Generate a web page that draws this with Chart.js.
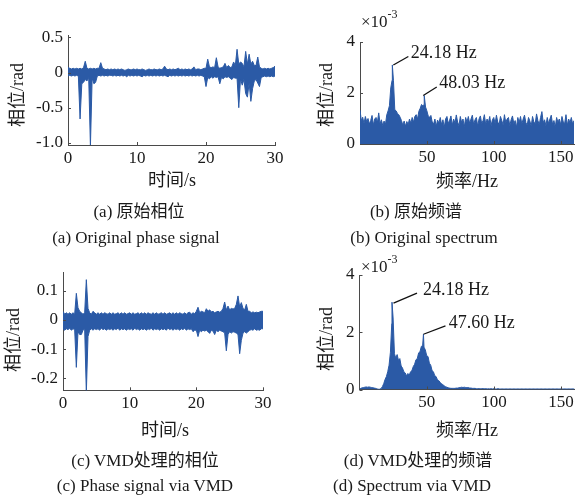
<!DOCTYPE html>
<html>
<head>
<meta charset="utf-8">
<script src="https://cdn.jsdelivr.net/npm/chart.js@4/dist/chart.umd.min.js"></script>
<style>
  html, body { margin: 0; padding: 0; background: #fff; }
  body { width: 576px; height: 495px; position: relative; overflow: hidden; }
  canvas { position: absolute; left: 0; top: 0; }
  .t { position: absolute; white-space: nowrap; color: #1a1a1a;
       font-family: "Liberation Serif", "Noto Sans CJK SC", serif; line-height: 1; }
  .c { transform: translate(-50%, -50%); }
  .ylab { transform: translate(-50%, -50%) rotate(-90deg); font-size: 18px; }
  .xlab { font-size: 18px; }
  .cap { font-size: 17px; }
  .mult { font-size: 17px; transform: translateY(-50%); }
  .mult sup { font-size: 12px; position: relative; top: -2px; }
</style>
</head>
<body>
<canvas id="chartA" width="600" height="495"></canvas>
<canvas id="chartB" width="600" height="495"></canvas>
<canvas id="chartC" width="600" height="495"></canvas>
<canvas id="chartD" width="600" height="495"></canvas>

<div class="t ylab" style="left:17px;top:95px">相位/rad</div>
<div class="t xlab c" style="left:172px;top:180px">时间/s</div>
<div class="t ylab" style="left:326px;top:95px">相位/rad</div>
<div class="t xlab c" style="left:467px;top:181px">频率/Hz</div>
<div class="t mult" style="left:361px;top:20px">×10<sup>-3</sup></div>

<div class="t ylab" style="left:13px;top:340px">相位/rad</div>
<div class="t xlab c" style="left:165px;top:430px">时间/s</div>
<div class="t ylab" style="left:326px;top:339px">相位/rad</div>
<div class="t xlab c" style="left:467px;top:430px">频率/Hz</div>
<div class="t mult" style="left:361px;top:265px">×10<sup>-3</sup></div>

<div class="t cap c" style="left:139px;top:211px">(a) 原始相位</div>
<div class="t cap c" style="left:136px;top:237px">(a) Original phase signal</div>
<div class="t cap c" style="left:416px;top:211px">(b) 原始频谱</div>
<div class="t cap c" style="left:424px;top:237px">(b) Original spectrum</div>
<div class="t cap c" style="left:145px;top:460px">(c) VMD处理的相位</div>
<div class="t cap c" style="left:145px;top:485px">(c) Phase signal via VMD</div>
<div class="t cap c" style="left:418px;top:460px">(d) VMD处理的频谱</div>
<div class="t cap c" style="left:412px;top:485px">(d) Spectrum via VMD</div>

<script>
// ---- sampling grids ----
const timeStep = 0.25;   // s between envelope samples
const freqStep = 1;      // Hz between spectrum samples

// ---- (a) original phase: upper / lower envelope, rad ----
const rawPhaseUpper = [
  0.07, 0.06, 0.05, 0.06, 0.05, 0.06, 0.05, 0.06, 0.05, 0.07,
  0.16, 0.06, 0.05, 0.06, 0.05, 0.06, 0.05, 0.06, 0.06, 0.14,
  0.06, 0.05, 0.04, 0.05, 0.04, 0.05, 0.04, 0.05, 0.04, 0.05,
  0.04, 0.05, 0.04, 0.03, 0.04, 0.05, 0.04, 0.04, 0.05, 0.04,
  0.05, 0.04, 0.04, 0.05, 0.04, 0.03, 0.04, 0.05, 0.04, 0.04,
  0.05, 0.04, 0.04, 0.05, 0.04, 0.05, 0.09, 0.05, 0.04, 0.05,
  0.04, 0.05, 0.04, 0.05, 0.06, 0.04, 0.05, 0.04, 0.05, 0.04,
  0.05, 0.04, 0.05, 0.08, 0.04, 0.05, 0.05, 0.04, 0.05, 0.06,
  0.06, 0.19, 0.08, 0.07, 0.08, 0.07, 0.21, 0.08, 0.06, 0.07,
  0.08, 0.13, 0.07, 0.10, 0.07, 0.08, 0.15, 0.10, 0.33, 0.12,
  0.15, 0.13, 0.08, 0.30, 0.12, 0.26, 0.12, 0.16, 0.10, 0.10,
  0.22, 0.08, 0.06, 0.05, 0.06, 0.05, 0.06, 0.05, 0.06, 0.07,
  0.09
];
const rawPhaseLower = [
  -0.05, -0.04, -0.05, -0.04, -0.05, -0.04, -0.05, -0.66, -0.16, -0.14,
  -0.10, -0.12, -0.07, -1.05, -0.08, -0.16, -0.14, -0.05, -0.04, -0.05,
  -0.04, -0.05, -0.04, -0.05, -0.04, -0.04, -0.05, -0.04, -0.05, -0.04,
  -0.05, -0.04, -0.05, -0.04, -0.06, -0.04, -0.05, -0.04, -0.05, -0.04,
  -0.05, -0.04, -0.05, -0.06, -0.04, -0.05, -0.04, -0.05, -0.04, -0.05,
  -0.04, -0.05, -0.04, -0.05, -0.04, -0.05, -0.04, -0.05, -0.06, -0.04,
  -0.05, -0.04, -0.05, -0.04, -0.05, -0.04, -0.05, -0.04, -0.05, -0.04,
  -0.05, -0.04, -0.05, -0.04, -0.05, -0.04, -0.05, -0.04, -0.05, -0.06,
  -0.20, -0.07, -0.09, -0.06, -0.08, -0.06, -0.07, -0.06, -0.16, -0.07,
  -0.09, -0.06, -0.07, -0.06, -0.08, -0.10, -0.07, -0.08, -0.08, -0.50,
  -0.09, -0.18, -0.10, -0.30, -0.35, -0.15, -0.41, -0.23, -0.12, -0.10,
  -0.15, -0.20, -0.07, -0.06, -0.05, -0.06, -0.05, -0.06, -0.05, -0.06,
  -0.05
];

// ---- (c) VMD phase: upper / lower envelope, rad ----
const vmdPhaseUpper = [
  0.030, 0.020, 0.025, 0.020, 0.025, 0.020, 0.025, 0.020, 0.092, 0.042,
  0.030, 0.025, 0.020, 0.025, 0.139, 0.040, 0.025, 0.020, 0.030, 0.025,
  0.020, 0.025, 0.020, 0.025, 0.020, 0.025, 0.022, 0.020, 0.025, 0.020,
  0.025, 0.020, 0.022, 0.025, 0.020, 0.025, 0.020, 0.025, 0.020, 0.022,
  0.025, 0.020, 0.025, 0.020, 0.022, 0.025, 0.020, 0.025, 0.020, 0.025,
  0.020, 0.025, 0.022, 0.020, 0.025, 0.020, 0.025, 0.020, 0.022, 0.025,
  0.020, 0.025, 0.020, 0.022, 0.025, 0.020, 0.025, 0.020, 0.025, 0.020,
  0.025, 0.022, 0.020, 0.025, 0.020, 0.025, 0.027, 0.020, 0.025, 0.022,
  0.030, 0.044, 0.025, 0.030, 0.028, 0.025, 0.039, 0.030, 0.035, 0.028,
  0.030, 0.025, 0.028, 0.030, 0.027, 0.030, 0.040, 0.062, 0.035, 0.048,
  0.035, 0.040, 0.038, 0.040, 0.054, 0.083, 0.045, 0.060, 0.040, 0.035,
  0.054, 0.030, 0.030, 0.025, 0.028, 0.025, 0.027, 0.025, 0.028, 0.030,
  0.030
];
const vmdPhaseLower = [
  -0.030, -0.035, -0.030, -0.033, -0.028, -0.035, -0.030, -0.033, -0.163, -0.040,
  -0.050, -0.050, -0.035, -0.030, -0.250, -0.057, -0.035, -0.030, -0.035, -0.030,
  -0.033, -0.030, -0.035, -0.028, -0.033, -0.030, -0.035, -0.030, -0.033, -0.030,
  -0.035, -0.030, -0.033, -0.028, -0.035, -0.030, -0.033, -0.030, -0.035, -0.030,
  -0.033, -0.030, -0.035, -0.028, -0.033, -0.030, -0.035, -0.030, -0.033, -0.030,
  -0.035, -0.030, -0.033, -0.028, -0.035, -0.030, -0.033, -0.030, -0.035, -0.030,
  -0.033, -0.030, -0.035, -0.028, -0.033, -0.030, -0.035, -0.030, -0.033, -0.030,
  -0.035, -0.030, -0.033, -0.028, -0.035, -0.030, -0.033, -0.030, -0.040, -0.035,
  -0.035, -0.057, -0.035, -0.040, -0.035, -0.038, -0.035, -0.040, -0.046, -0.035,
  -0.038, -0.050, -0.035, -0.040, -0.035, -0.038, -0.040, -0.045, -0.106, -0.050,
  -0.040, -0.045, -0.040, -0.042, -0.045, -0.050, -0.116, -0.070, -0.045, -0.040,
  -0.045, -0.040, -0.035, -0.033, -0.035, -0.030, -0.035, -0.033, -0.035, -0.030,
  -0.030
];

// ---- (b) original spectrum, x10^-3 rad, 0..160 Hz ----
const rawSpectrum = [
  1.33, 0.92, 1.05, 0.80, 1.08, 0.88, 1.00, 0.78, 0.92, 1.12,
  0.75, 0.98, 1.04, 0.85, 1.22, 0.80, 0.95, 0.72, 0.90, 0.76,
  1.14, 1.30, 1.50, 2.20, 2.50, 2.50, 1.35, 1.30, 1.20, 1.15,
  1.05, 0.92, 0.74, 0.90, 0.70, 0.88, 0.76, 0.98, 0.82, 1.04,
  0.86, 1.08, 1.15, 0.98, 1.28, 1.40, 1.55, 1.50, 1.55, 1.45,
  1.30, 1.10, 1.05, 1.12, 0.86, 0.78, 0.98, 0.70, 0.94, 0.82,
  1.04, 0.76, 0.95, 0.66, 0.98, 1.08, 0.80, 0.93, 1.10, 0.74,
  0.98, 0.82, 1.14, 0.86, 0.72, 1.08, 0.84, 0.98, 0.68, 1.04,
  0.86, 1.08, 0.80, 0.98, 1.13, 0.76, 0.95, 1.04, 0.70, 0.98,
  1.10, 0.80, 0.92, 1.15, 0.76, 0.98, 0.84, 1.08, 0.72, 0.95,
  1.04, 0.80, 1.13, 0.86, 0.76, 1.08, 0.92, 0.75, 1.15, 0.84,
  0.98, 1.04, 0.72, 0.95, 1.10, 0.80, 0.92, 0.66, 1.04, 0.84,
  1.08, 0.78, 0.98, 1.13, 0.84, 0.74, 1.04, 0.90, 0.70, 1.08,
  0.86, 0.80, 1.18, 0.92, 0.76, 1.04, 1.27, 0.84, 0.95, 0.72,
  1.04, 0.80, 0.98, 1.13, 0.76, 0.92, 0.66, 1.04, 0.84, 0.98,
  0.76, 1.08, 0.86, 0.80, 1.15, 0.74, 0.98, 0.84, 1.04, 0.78,
  0.92
];
const rawPeakFreqs = [24.18, 48.03];
const rawPeakAmps  = [3.10, 1.90];

// ---- (d) VMD spectrum, x10^-3 rad, 0..160 Hz ----
const vmdSpectrum = [
  0.02, 0.04, 0.06, 0.07, 0.08, 0.09, 0.08, 0.09, 0.08, 0.07,
  0.06, 0.05, 0.04, 0.02, 0.01, 0.01, 0.03, 0.10, 0.20, 0.35,
  0.45, 0.62, 0.85, 1.30, 2.30, 2.50, 1.25, 1.10, 1.22, 1.02,
  1.08, 0.82, 0.75, 0.62, 0.58, 0.48, 0.56, 0.50, 0.62, 0.66,
  0.80, 0.88, 1.04, 1.08, 1.28, 1.32, 1.50, 1.55, 1.48, 1.38,
  1.18, 1.15, 0.92, 0.85, 0.66, 0.62, 0.48, 0.45, 0.34, 0.31,
  0.25, 0.20, 0.17, 0.13, 0.10, 0.08, 0.06, 0.05, 0.04, 0.04,
  0.04, 0.04, 0.05, 0.05, 0.06, 0.07, 0.08, 0.07, 0.08, 0.07,
  0.06, 0.07, 0.05, 0.05, 0.04, 0.04, 0.04, 0.03, 0.03, 0.03,
  0.03, 0.03, 0.03, 0.03, 0.03, 0.02, 0.03, 0.02, 0.03, 0.02,
  0.03, 0.02, 0.02, 0.03, 0.02, 0.02, 0.02, 0.02, 0.02, 0.02,
  0.02, 0.02, 0.02, 0.02, 0.02, 0.02, 0.02, 0.02, 0.02, 0.02,
  0.02, 0.02, 0.02, 0.02, 0.02, 0.02, 0.02, 0.02, 0.02, 0.02,
  0.02, 0.02, 0.02, 0.02, 0.02, 0.02, 0.02, 0.02, 0.02, 0.02,
  0.02, 0.02, 0.02, 0.02, 0.02, 0.02, 0.02, 0.02, 0.02, 0.02,
  0.02, 0.02, 0.02, 0.02, 0.02, 0.02, 0.02, 0.02, 0.02, 0.02,
  0.02
];
const vmdPeakFreqs = [24.18, 47.60];
const vmdPeakAmps  = [3.05, 1.93];

// ---- tick values and labels ----
const timeTicks = [0, 10, 20, 30];
const freqTicks = [50, 100, 150];
const rawPhaseTicks = [-1.0, -0.5, 0, 0.5];
const rawPhaseTickLabels = ['-1.0', '-0.5', '0', '0.5'];
const vmdPhaseTicks = [-0.2, -0.1, 0, 0.1];
const vmdPhaseTickLabels = ['-0.2', '-0.1', '0', '0.1'];
const spectrumTicks = [0, 2, 4];
const spectrumTickLabels = ['0', '2', '4'];

// ---- styling ----
const LINE = '#2b5aa6';
const AXIS = '#4a4a4a';
const TEXT = '#1a1a1a';
const SERIF = '"Liberation Serif", "Noto Sans CJK SC", serif';

function toPoints(values, step) {
  return values.map((v, i) => ({ x: i * step, y: v }));
}
function withPeaks(values, step, freqs, amps) {
  const pts = toPoints(values, step);
  freqs.forEach((f, k) => pts.push({ x: f, y: amps[k] }));
  return pts.sort((a, b) => a.x - b.x);
}

// inward tick marks on the left and bottom axes
const inwardTicks = {
  id: 'inwardTicks',
  afterDraw(chart) {
    const { ctx, chartArea: a, scales: { x, y } } = chart;
    ctx.save();
    ctx.strokeStyle = AXIS;
    ctx.lineWidth = 1;
    ctx.beginPath();
    x.ticks.forEach(t => {
      const px = Math.round(x.getPixelForValue(t.value)) + 0.5;
      ctx.moveTo(px, a.bottom); ctx.lineTo(px, a.bottom - 3);
    });
    y.ticks.forEach(t => {
      const py = Math.round(y.getPixelForValue(t.value)) + 0.5;
      ctx.moveTo(a.left, py); ctx.lineTo(a.left + 3, py);
    });
    ctx.stroke();
    ctx.restore();
  }
};

// leader line + frequency label at each spectral peak
const peakLabels = {
  id: 'peakLabels',
  afterDatasetsDraw(chart, args, opts) {
    if (!opts.peaks) return;
    const { ctx, scales: { x, y } } = chart;
    ctx.save();
    ctx.strokeStyle = '#111';
    ctx.lineWidth = 1.3;
    ctx.fillStyle = TEXT;
    ctx.font = '18px ' + SERIF;
    ctx.textAlign = 'left';
    ctx.textBaseline = 'middle';
    opts.peaks.forEach(p => {
      const px = x.getPixelForValue(p.freq);
      const py = y.getPixelForValue(p.amp);
      ctx.beginPath();
      ctx.moveTo(px + p.line[0], py + p.line[1]);
      ctx.lineTo(px + p.line[2], py + p.line[3]);
      ctx.stroke();
      ctx.fillText(p.freq.toFixed(2) + ' Hz', px + p.text[0], py + p.text[1]);
    });
    ctx.restore();
  }
};

function axis(min, max, ticks, labels, fitProp, fitSize, pad) {
  return {
    type: 'linear', min, max,
    grid: { display: false, drawTicks: false },
    border: { display: true, color: AXIS, width: 1 },
    ticks: {
      color: TEXT, font: { family: SERIF, size: 17 }, padding: pad,
      autoSkip: false, maxRotation: 0,
      callback: (v, i) => labels ? labels[i] : String(v)
    },
    afterBuildTicks: s => { s.ticks = ticks.map(v => ({ value: v })); },
    afterFit: s => { s[fitProp] = fitSize; }
  };
}

function makeChart(id, area, xAxis, yAxis, datasets, peaks) {
  const W = 600, H = 495, yW = 50, xH = 30;
  return new Chart(document.getElementById(id), {
    type: 'line',
    data: { datasets },
    options: {
      responsive: false, animation: false, devicePixelRatio: 1,
      layout: { padding: { left: area.left - yW, top: area.top, right: W - area.right, bottom: H - area.bottom - xH } },
      plugins: { legend: { display: false }, tooltip: { enabled: false }, peakLabels: { peaks } },
      elements: { point: { radius: 0 }, line: { tension: 0 } },
      scales: {
        x: Object.assign(axis(xAxis.min, xAxis.max, xAxis.ticks, null, 'height', xH, 3), { position: 'bottom' }),
        y: Object.assign(axis(yAxis.min, yAxis.max, yAxis.ticks, yAxis.labels, 'width', yW, 5), { position: 'left' })
      }
    },
    plugins: [inwardTicks, peakLabels]
  });
}

function band(upper, lower) {
  return [
    { data: toPoints(upper, timeStep), borderColor: LINE, backgroundColor: LINE, borderWidth: 1, fill: '+1' },
    { data: toPoints(lower, timeStep), borderColor: LINE, backgroundColor: LINE, borderWidth: 1, fill: false }
  ];
}
function spectrum(values, freqs, amps) {
  return [{ data: withPeaks(values, freqStep, freqs, amps), borderColor: LINE, backgroundColor: LINE, borderWidth: 1, fill: 'origin' }];
}

// (a) original phase
makeChart('chartA', { left: 68, top: 35, right: 275, bottom: 145 },
  { min: 0, max: 30, ticks: timeTicks },
  { min: -1.03, max: 0.533, ticks: rawPhaseTicks, labels: rawPhaseTickLabels },
  band(rawPhaseUpper, rawPhaseLower));

// (b) original spectrum
makeChart('chartB', { left: 360, top: 42, right: 574, bottom: 144 },
  { min: 0, max: 160, ticks: freqTicks },
  { min: 0, max: 4, ticks: spectrumTicks, labels: spectrumTickLabels },
  spectrum(rawSpectrum, rawPeakFreqs, rawPeakAmps),
  [
    { freq: rawPeakFreqs[0], amp: rawPeakAmps[0], line: [1, 0, 16, -8.5], text: [18.5, -12] },
    { freq: rawPeakFreqs[1], amp: rawPeakAmps[1], line: [-1, 0, 12.5, -8.5], text: [15, -12.5] }
  ]);

// (c) phase after VMD
makeChart('chartC', { left: 63, top: 272.7, right: 263, bottom: 390.3 },
  { min: 0, max: 30, ticks: timeTicks },
  { min: -0.242, max: 0.163, ticks: vmdPhaseTicks, labels: vmdPhaseTickLabels },
  band(vmdPhaseUpper, vmdPhaseLower));

// (d) spectrum after VMD
makeChart('chartD', { left: 359.5, top: 275, right: 574.5, bottom: 389.5 },
  { min: 0, max: 160, ticks: freqTicks },
  { min: 0, max: 4, ticks: spectrumTicks, labels: spectrumTickLabels },
  spectrum(vmdSpectrum, vmdPeakFreqs, vmdPeakAmps),
  [
    { freq: vmdPeakFreqs[0], amp: vmdPeakAmps[0], line: [1.5, 1, 25, -9], text: [31, -12] },
    { freq: vmdPeakFreqs[1], amp: vmdPeakAmps[1], line: [0, 0, 22, -8.3], text: [25.3, -11] }
  ]);
</script>
</body>
</html>
